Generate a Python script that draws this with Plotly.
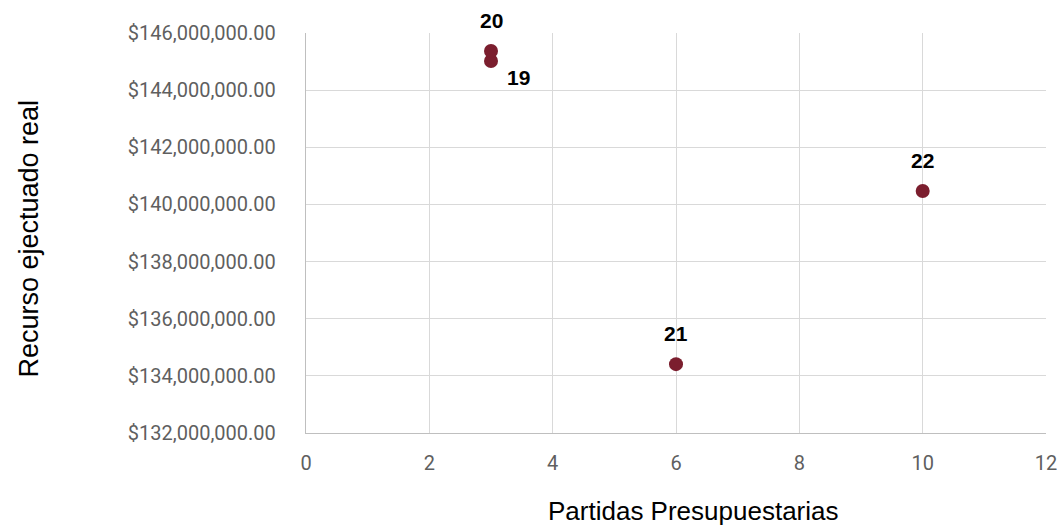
import plotly.graph_objects as go

partidas = [3, 3, 6, 10]
recurso = [145020000, 145370000, 134410000, 140470000]
etiquetas = ["19", "20", "21", "22"]
label_dx = [27, 0, 0, 0]
label_dy = [-16, 31, 31, 31]

ytick_vals = [132e6 + 2e6 * i for i in range(8)]
ytick_text = ["${:,.2f}".format(v) for v in ytick_vals]
xtick_vals = [0, 2, 4, 6, 8, 10, 12]

x_title = "Partidas Presupuestarias"
y_title = "Recurso ejectuado real"

fig = go.Figure()
fig.add_trace(go.Scatter(
    x=partidas, y=recurso, mode="markers",
    marker=dict(size=14, color="#7B1E2E"),
    cliponaxis=False, showlegend=False, hoverinfo="x+y",
))

for xv, yv, t, dx, dy in zip(partidas, recurso, etiquetas, label_dx, label_dy):
    fig.add_annotation(
        x=xv, y=yv, xref="x", yref="y", text="<b>" + t + "</b>",
        showarrow=False, xshift=dx, yshift=dy,
        font=dict(family="Liberation Sans", size=21, color="#000000"),
    )

fig.add_annotation(
    x=0.523, y=0, xref="paper", yref="paper", text=x_title,
    showarrow=False, xanchor="center", yanchor="middle", yshift=-78,
    font=dict(family="Liberation Sans", size=26, color="#000000"),
)
fig.add_annotation(
    x=0, y=0.486, xref="paper", yref="paper", text=y_title, textangle=-90,
    showarrow=False, xanchor="center", yanchor="middle", xshift=-277,
    font=dict(family="Liberation Sans", size=27, color="#000000"),
)

fig.update_layout(
    width=1060, height=527,
    margin=dict(l=306, r=14, t=33, b=94),
    paper_bgcolor="white", plot_bgcolor="white",
    xaxis=dict(
        range=[0, 12], tickvals=xtick_vals,
        showgrid=True, gridcolor="#D9D9D9", gridwidth=1.3,
        showline=True, linecolor="#BFBFBF", linewidth=1.3,
        zeroline=False, ticks="", automargin=False, ticklabelstandoff=12,
        tickfont=dict(family="Roboto", size=20, color="#5f5f5f"),
    ),
    yaxis=dict(
        range=[132e6, 146e6], tickvals=ytick_vals, ticktext=ytick_text,
        showgrid=True, gridcolor="#D9D9D9", gridwidth=1.3,
        showline=True, linecolor="#BFBFBF", linewidth=1.3,
        zeroline=False, ticks="", automargin=False, ticklabelstandoff=25,
        tickfont=dict(family="Roboto", size=20, color="#5f5f5f"),
    ),
)

fig.write_html(
    "out.html",
    config={"displayModeBar": False},
    post_script="document.body.style.margin='0';document.body.style.overflow='hidden';",
)
